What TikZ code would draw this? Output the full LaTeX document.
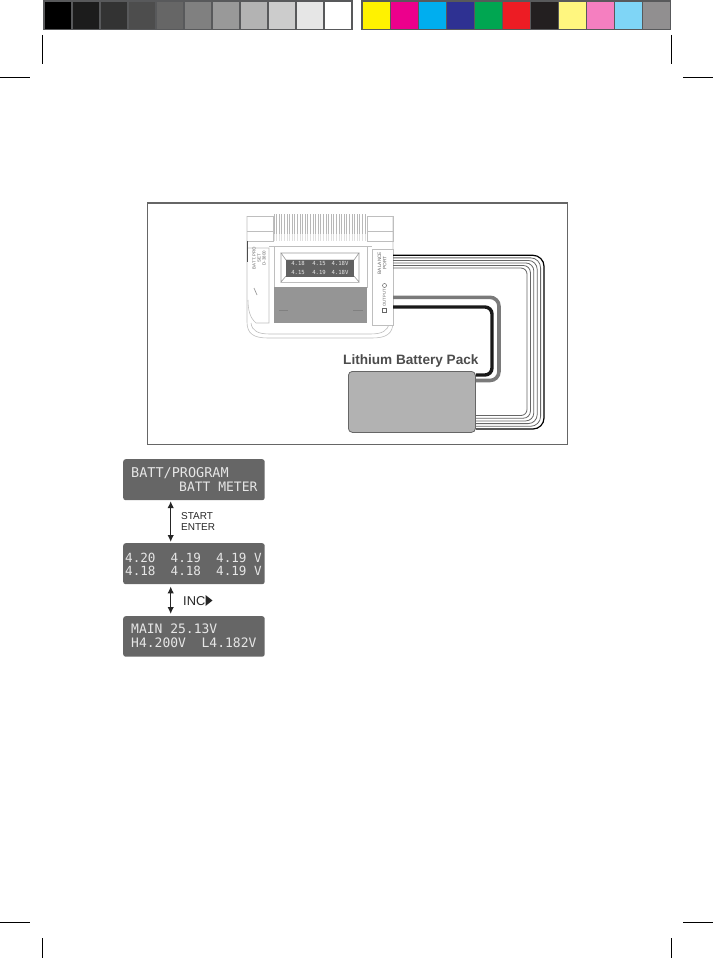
\documentclass[tikz,border=0pt]{standalone}
\usepackage{fontspec}
\setmainfont{Liberation Sans}
\setsansfont{Liberation Sans}
\setmonofont{DejaVu Sans Mono}
\usetikzlibrary{arrows.meta,calc}
\definecolor{swframe}{HTML}{58595B}
\definecolor{lcdgray}{HTML}{666666}
\definecolor{lcdtext}{HTML}{E6E6E6}
\definecolor{chline}{HTML}{BEBEBE}
\definecolor{wiregray}{HTML}{7A7A7A}
\definecolor{packgray}{HTML}{B2B2B2}
\definecolor{panelgray}{HTML}{959595}
\tikzset{
  cropmark/.style={draw=black,line width=0.8pt},
  swatch/.style={minimum width=26.4pt,minimum height=27pt,inner sep=0pt,draw=none,anchor=north west},
  lcdbox/.style={fill=lcdgray,draw=none,rounded corners=2.5pt,inner sep=0pt,minimum width=141.5pt,anchor=north west},
  lcdline/.style={anchor=base west,inner sep=0pt,text=lcdtext,font=\fontsize{13}{13}\selectfont\ttfamily},
  minitext/.style={inner sep=0pt,text=lcdtext,font=\fontsize{5.6}{6}\selectfont\ttfamily},
  sidetext/.style={inner sep=0pt,text=black!60,rotate=90,align=center},
  chbody/.style={draw=chline,line width=0.6pt},
  dblarrow/.style={{Latex[length=7pt,width=6.5pt]}-{Latex[length=7pt,width=6.5pt]},line width=1.2pt,black!85},
  label/.style={inner sep=0pt,anchor=base west,text=black!85}
}
\begin{document}
\begin{tikzpicture}[x=1pt,y=-1pt]
\useasboundingbox (0,0) rectangle (713,958);
% colour bars
\fill[swframe] (43,0) rectangle (353,30);
\fill[swframe] (361,0) rectangle (671,30);
\foreach \i/\c in {0/000000,1/1C1C1C,2/333333,3/4D4D4D,4/666666,5/808080,6/999999,7/B3B3B3,8/CCCCCC,9/E6E6E6,10/FFFFFF}{
  \definecolor{sw}{HTML}{\c}
  \node[swatch,fill=sw] (g\i) at ({44.7+28*\i},1.8) {};
}
\foreach \i/\c in {0/FFF200,1/EC008C,2/00AEEF,3/2E3192,4/00A651,5/ED1C24,6/231F20,7/FFF67F,8/F57FC0,9/7FD5F6,10/918F90}{
  \definecolor{sw}{HTML}{\c}
  \node[swatch,fill=sw] (k\i) at ({363+28*\i},1.8) {};
}
% crop marks
\draw[cropmark] (42.5,35) -- (42.5,64.5);
\draw[cropmark] (671,35) -- (671,64.5);
\draw[cropmark] (0,77.3) -- (30,77.3);
\draw[cropmark] (683,77.3) -- (713,77.3);
\draw[cropmark] (0,922) -- (30,922);
\draw[cropmark] (683,922) -- (713,922);
\draw[cropmark] (42.5,938) -- (42.5,958);
\draw[cropmark] (671,938) -- (671,958);
% frame
\node[draw=black!60,line width=1.2pt,minimum width=420pt,minimum height=241.5pt,inner sep=0pt,anchor=north west] (frame) at (147,202.3) {};
% charger body
\draw[chbody] (247,216) -- (247,322) .. controls (247,334) and (254,338) .. (268,338) -- (372,338) .. controls (386,338) and (393,334) .. (393,322) -- (393,216);
\draw[chbody] (251,323) .. controls (252,331) and (258,334) .. (270,334) -- (370,334) .. controls (382,334) and (388,331) .. (389,323);
\draw[chbody] (247,216) -- (273,216) -- (273,241) -- (247,241);
\draw[chbody] (247,231) -- (273,231);
\draw[chbody] (367,216) -- (393,216) -- (393,241) -- (367,241) -- cycle;
\draw[chbody] (367,231) -- (393,231);
\foreach \x in {274,276.6,...,367}{
  \draw[black!28,line width=0.8pt] (\x,214) -- (\x,234);
  \draw[black!12,line width=0.8pt] (\x,234) -- (\x,241);
}
\draw[chbody] (269,246) -- (372,246);
% left panel
\draw[black!70,line width=0.8pt] (247.5,241) -- (247.5,262);
\draw[chbody] (248,248) -- (269,248) -- (269,323) -- (256,323) .. controls (250,318) and (248,310) .. (248,300);
\node[sidetext,font=\fontsize{4.4}{5}\selectfont] (lefttext) at (259,258) {BATT. PRO\\SET\\D-3800};
\draw[black!40,line width=0.7pt] (254,288) -- (257,295);
% display
\node[draw=chline,line width=0.6pt,minimum width=93pt,minimum height=41pt,inner sep=0pt,anchor=north west,fill=white] (bezel) at (274,246) {};
\draw[black!40,line width=0.6pt] (281,253) -- (359,253) -- (354,260) -- (286,260) -- cycle;
\draw[black!40,line width=0.6pt] (281,253) -- (281,282) -- (286,276);
\draw[black!40,line width=0.6pt] (359,253) -- (359,282) -- (354,276);
\draw[chline,line width=0.6pt] (281,282) -- (359,282);
\node[fill=black!62,minimum width=68pt,minimum height=16.5pt,inner sep=0pt,anchor=north west] (display) at (286,259.8) {};
\foreach \n/\x/\y/\t in {a/298/263.8/4.18,b/319/263.8/4.15,c/340/263.8/4.18V,d/298/272.2/4.15,e/319/272.2/4.19,f/340/272.2/4.18V}{
  \node[minitext] (d\n) at (\x,\y) {\t};
}
\node[fill=panelgray,minimum width=93pt,minimum height=35.5pt,inner sep=0pt,anchor=north west] (panel) at (274,287) {};
\draw[black!50,line width=0.7pt] (279,310) -- (288,310);
\draw[black!50,line width=0.7pt] (353,310) -- (363,310);
% port panel and pack
\node[chbody,fill=white,minimum width=21pt,minimum height=76pt,inner sep=0pt,anchor=north west] (port) at (371.5,249) {};
\node[sidetext,font=\fontsize{4.8}{5.2}\selectfont] (portlabel) at (382,263) {BALANCE\\PORT};
\node[sidetext,font=\fontsize{4.2}{5}\selectfont] (outlabel) at (384.5,298) {OUTPUT};
\node[draw=black!60,circle,minimum size=4pt,inner sep=0pt,line width=.5pt] (outdot) at (384.5,285.5) {};
\node[draw=black!60,minimum size=4pt,inner sep=0pt,line width=.5pt] (outbox) at (384.5,310) {};
\node[inner sep=0pt,anchor=north west,fill=packgray,draw=black!60,line width=0.8pt,minimum width=127pt,minimum height=61pt,rounded corners=4pt] (pack) at (348,371) {};
% balance wires
\foreach \i/\col/\w/\rad in {0/black/1.2/11,1/black!60/0.8/10,2/black!60/0.8/9,3/black!60/0.8/8,4/black!60/0.8/7,5/black!60/0.8/6}{
  \draw[draw=\col,line width=\w pt,rounded corners=\rad pt]
    (port.east |- 0,{255.3+2.55*\i}) -- ({544-3.4*\i},{255.3+2.55*\i}) -- ({544-3.4*\i},{429-2.7*\i}) -- (pack.east |- 0,{429-2.7*\i});
}
% power wires
\draw[draw=wiregray,line width=3.6pt,rounded corners=9pt] (port.east |- 0,297.3) -- (499,297.3) -- (499,380.5) -- (pack.east |- 0,380.5);
\draw[draw=black!90,line width=3.4pt,rounded corners=7pt] (port.east |- 0,307) -- (492,307) -- (492,375) -- (pack.east |- 0,375);
\node[inner sep=0pt,anchor=base west,text=black!70,font=\fontsize{13.6}{14}\selectfont\bfseries] (packlabel) at (343,364) {Lithium Battery Pack};
% LCD panels
\node[lcdbox,minimum height=41pt] (lcda) at (123,459) {};
\node[lcdbox,minimum height=41pt] (lcdb) at (123,543) {};
\node[lcdbox,minimum height=40.5pt] (lcdc) at (123,616) {};
\node[lcdline,font=\fontsize{13.5}{14}\selectfont\ttfamily] (la1) at (131,477.7) {BATT/PROGRAM};
\node[lcdline] (la2) at (179,491.7) {BATT METER};
\node[lcdline,font=\fontsize{12.6}{13}\selectfont\ttfamily] (lb1) at (125,562.7) {4.20\ \ 4.19\ \ 4.19 V};
\node[lcdline,font=\fontsize{12.6}{13}\selectfont\ttfamily] (lb2) at (125,575.7) {4.18\ \ 4.18\ \ 4.19 V};
\node[lcdline] (lc1) at (131,633.7) {MAIN 25.13V};
\node[lcdline] (lc2) at (131,647.7) {H4.200V\ \ L4.182V};
% arrows
\coordinate (axa) at (170.7,0);
\draw[dblarrow] ($(axa |- lcda.south)+(0,0.7)$) -- ($(axa |- lcdb.north)+(0,-1)$);
\draw[dblarrow] ($(axa |- lcdb.south)+(0,2)$) -- ($(axa |- lcdc.north)+(0,-2)$);
% labels
\node[label,font=\fontsize{10}{10}\selectfont] (start) at (181,519) {START};
\node[label,font=\fontsize{10}{10}\selectfont] (enter) at (181,530) {ENTER};
\node[label,font=\fontsize{12.8}{13}\selectfont] (inc) at (183,605) {INC};
\fill[black!85] (205.5,595) -- (212.5,600.5) -- (205.5,606) -- cycle;
\end{tikzpicture}
\end{document}
